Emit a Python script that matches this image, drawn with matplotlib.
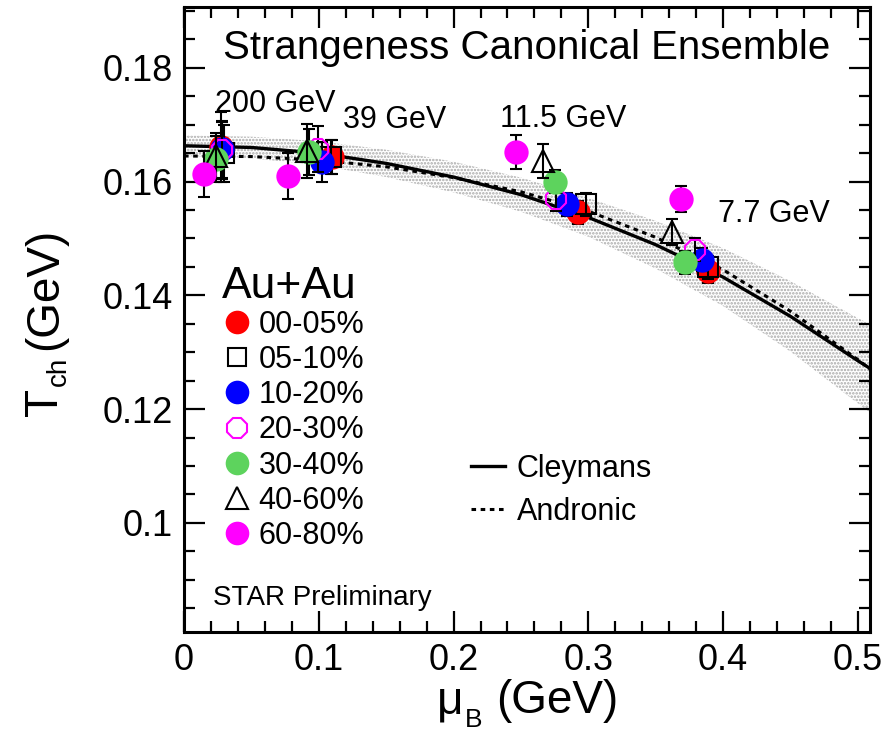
import matplotlib
matplotlib.use("Agg")
import matplotlib.pyplot as plt
from matplotlib.lines import Line2D

plt.rcParams['font.family'] = ['Liberation Sans', 'DejaVu Sans']
plt.rcParams['mathtext.default'] = 'regular'
plt.rcParams['hatch.color'] = '#a0a0a0'
plt.rcParams['hatch.linewidth'] = 1.2

# ---- data ----
centralities = ['00-05%', '05-10%', '10-20%', '20-30%', '30-40%', '40-60%', '60-80%']
energy_labels = ['200 GeV', '39 GeV', '11.5 GeV', '7.7 GeV']

mu_00_05 = [0.0275, 0.110, 0.292, 0.3886]
T_00_05 = [0.1661, 0.1643, 0.1546, 0.1442]
e_00_05 = [0.0062, 0.003, 0.002, 0.002]

mu_05_10 = [0.030, 0.109, 0.2986, 0.3886]
T_05_10 = [0.1650, 0.1643, 0.1560, 0.1449]
e_05_10 = [0.005, 0.003, 0.002, 0.002]

mu_10_20 = [0.0282, 0.1025, 0.2845, 0.384]
T_10_20 = [0.1657, 0.1634, 0.1560, 0.1463]
e_10_20 = [0.005, 0.0035, 0.002, 0.002]

mu_20_30 = [0.028, 0.0996, 0.276, 0.379]
T_20_30 = [0.1655, 0.1657, 0.1569, 0.1480]
e_20_30 = [0.005, 0.004, 0.002, 0.002]

mu_30_40 = [0.0238, 0.093, 0.275, 0.3715]
T_30_40 = [0.1640, 0.1652, 0.1600, 0.1458]
e_30_40 = [0.004, 0.004, 0.002, 0.002]

mu_40_60 = [0.024, 0.0914, 0.2667, 0.3618]
T_40_60 = [0.1645, 0.1654, 0.1636, 0.1511]
e_40_60 = [0.004, 0.0048, 0.003, 0.0023]

mu_60_80 = [0.0149, 0.0773, 0.246, 0.3685]
T_60_80 = [0.1613, 0.1610, 0.1652, 0.1569]
e_60_80 = [0.004, 0.004, 0.003, 0.0023]

curve_mu = [0.0, 0.05, 0.1, 0.15, 0.2, 0.25, 0.3, 0.35, 0.4, 0.45, 0.5, 0.51]
cleymans_T = [0.1663, 0.1660, 0.1650, 0.1632, 0.1608, 0.1577, 0.1537, 0.1489, 0.1432, 0.1363, 0.1285, 0.1270]
band_upper = [0.1681, 0.1679, 0.1671, 0.1656, 0.1635, 0.1607, 0.1571, 0.1531, 0.1483, 0.1425, 0.1360, 0.1348]
band_lower = [0.1645, 0.1641, 0.1629, 0.1608, 0.1581, 0.1547, 0.1503, 0.1447, 0.1381, 0.1301, 0.1210, 0.1192]
andronic_T = [0.1645, 0.1644, 0.1638, 0.1626, 0.1607, 0.1582, 0.1548, 0.1502, 0.1445, 0.1372, 0.1287, 0.1268]

series = [
    (mu_00_05, T_00_05, e_00_05, dict(marker='o', mfc='#ff0000', mec='#ff0000')),
    (mu_05_10, T_05_10, e_05_10, dict(marker='s', mfc='none', mec='black')),
    (mu_10_20, T_10_20, e_10_20, dict(marker='o', mfc='#0000ff', mec='#0000ff')),
    (mu_20_30, T_20_30, e_20_30, dict(marker='8', mfc='none', mec='#ff00ff')),
    (mu_30_40, T_30_40, e_30_40, dict(marker='o', mfc='#5dd35d', mec='#5dd35d')),
    (mu_40_60, T_40_60, e_40_60, dict(marker='^', mfc='none', mec='black')),
    (mu_60_80, T_60_80, e_60_80, dict(marker='o', mfc='#ff00ff', mec='#ff00ff')),
]

W, H = 894, 735
fig = plt.figure(figsize=(W / 100, H / 100), dpi=100)
ax = fig.add_axes([184/W, 1-632/H, (870-184)/W, (632-7)/H])

# band
ax.fill_between(curve_mu, band_lower, band_upper, facecolor='none',
                hatch='.....', edgecolor='#a8a8a8', linewidth=0, zorder=1)
ax.plot(curve_mu, cleymans_T, color='black', lw=2.4, zorder=2)
ax.plot(curve_mu, andronic_T, color='black', lw=2.2, dashes=(1.5, 1.5), zorder=2)

handles = []
for i, (m, t, e, st) in enumerate(series):
    ms = 16 if st['marker'] != 's' else 14
    ax.errorbar(m, t, yerr=e, fmt='none', ecolor='black', elinewidth=1.5,
                capsize=4, capthick=1.5, zorder=3 + i)
    ax.plot(m, t, linestyle='none', marker=st['marker'], markersize=ms,
            markerfacecolor=st['mfc'], markeredgecolor=st['mec'],
            markeredgewidth=1.5, zorder=3.5 + i)
    handles.append(Line2D([], [], linestyle='none', marker=st['marker'],
                          markersize=ms - 0.5, markerfacecolor=st['mfc'],
                          markeredgecolor=st['mec'], markeredgewidth=1.5))

ax.set_xlim(0, 0.509)
ax.set_ylim(0.0808, 0.1907)
ax.set_xticks([0, 0.1, 0.2, 0.3, 0.4, 0.5])
ax.set_xticklabels(['0', '0.1', '0.2', '0.3', '0.4', '0.5'])
ax.set_xticks([0.02 * k for k in range(26) if k % 5 != 0], minor=True)
ax.set_yticks([0.1, 0.12, 0.14, 0.16, 0.18])
ax.set_yticklabels(['0.1', '0.12', '0.14', '0.16', '0.18'])
ax.set_yticks([0.085 + 0.005 * k for k in range(22) if (k + 1) % 4 != 0], minor=True)

ax.tick_params(which='both', direction='in', top=True, right=True, width=1.6,
               labelsize=26, color='black')
ax.tick_params(which='major', length=15, pad=8)
ax.tick_params(which='minor', length=8)
for s in ax.spines.values():
    s.set_linewidth(2.2)

# axis titles, ROOT-like with a low, small subscript
fig.text(437/W, 1-713/H, '\u03bc', fontsize=33, ha='left', va='baseline')
fig.text(465/W, 1-727/H, 'B', fontsize=19, ha='left', va='baseline')
fig.text(496/W, 1-713/H, '(GeV)', fontsize=33, ha='left', va='baseline')
fig.text(57/W, 1-416/H, 'T', fontsize=33, rotation=90,
         rotation_mode='anchor', ha='left', va='baseline')
fig.text(66/W, 1-386/H, 'ch', fontsize=20, rotation=90,
         rotation_mode='anchor', ha='left', va='baseline')
fig.text(57/W, 1-350/H, '(GeV)', fontsize=33, rotation=90,
         rotation_mode='anchor', ha='left', va='baseline')

ax.text(0.5, 0.935, 'Strangeness Canonical Ensemble', transform=ax.transAxes,
        ha='center', va='center', fontsize=29)
tr = ax.transAxes
def px(x, y):
    return ((x - 184) / (870 - 184), (632 - y) / (632 - 7))
for lab, (x, y) in zip(energy_labels, [(215, 112), (343, 128), (500, 127), (718, 222)]):
    ax.text(*px(x, y), lab, transform=tr, fontsize=22, va='baseline', ha='left')

ax.text(*px(213, 605), 'STAR Preliminary', transform=tr, fontsize=20, va='baseline')

leg = ax.legend(handles, centralities, loc='upper left', bbox_to_anchor=px(222, 266),
                frameon=False, fontsize=22, title='Au+Au', title_fontsize=32,
                handlelength=1.0, handletextpad=0.2, labelspacing=0.17,
                borderaxespad=0, borderpad=0, alignment='left')
leg._legend_box.sep = 2
ax.add_artist(leg)

lh = [Line2D([], [], color='black', lw=2.4),
      Line2D([], [], color='black', lw=2.2, dashes=(1.5, 1.5))]
ax.legend(lh, ['Cleymans', 'Andronic'], loc='upper left', bbox_to_anchor=px(471, 454),
          frameon=False, fontsize=22, handlelength=1.1, handletextpad=0.4,
          labelspacing=0.42, borderaxespad=0, borderpad=0)

fig.savefig('out.png', dpi=100)
